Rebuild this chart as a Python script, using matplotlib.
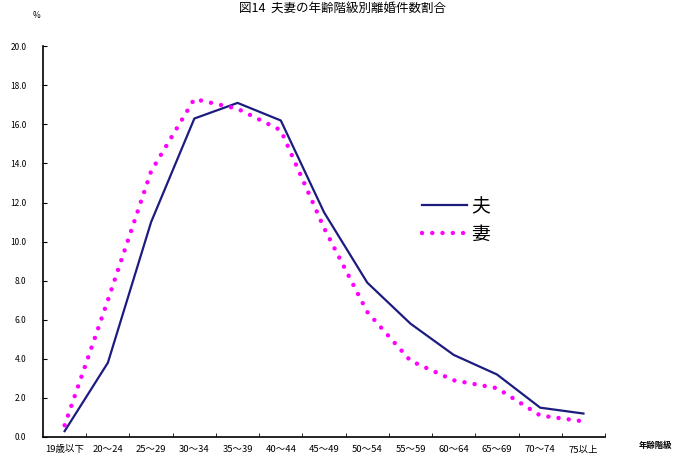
import numpy as np
import matplotlib.pyplot as plt

plt.rcParams['font.family'] = ['Noto Sans CJK JP', 'DejaVu Sans']

# 年齢階級
categories = ['19歳以下', '20～24', '25～29', '30～34', '35～39', '40～44', '45～49',
              '50～54', '55～59', '60～64', '65～69', '70～74', '75以上']
# 離婚件数割合 (%)
husband = [0.3, 3.8, 11.0, 16.3, 17.1, 16.2, 11.5, 7.9, 5.8, 4.2, 3.2, 1.5, 1.2]
wife = [0.6, 7.0, 13.6, 17.3, 16.8, 15.7, 10.7, 6.4, 3.9, 2.9, 2.5, 1.1, 0.8]
yticks = np.arange(0, 20.1, 2.0)

fig = plt.figure(figsize=(6.85, 4.57), dpi=100)
ax = fig.add_axes([0.0628, 0.0438, 0.8205, 0.855])

x = np.arange(len(categories))
ax.plot(x, husband, color='#1c1c80', lw=1.6, label='夫')
ax.plot(x, wife, color='#ff00ff', lw=3.2, linestyle=(0, (0.01, 2.3)),
        dash_capstyle='round', label='妻')

ax.set_xlim(-0.5, len(categories) - 0.5)
ax.set_ylim(0, 20)
ax.set_yticks(yticks)
ax.set_yticklabels([f'{v:.1f}' for v in yticks], fontsize=6)
ax.set_xticks(x)
ax.set_xticklabels(categories, fontsize=6.8)
ax.set_xticks(np.arange(0.5, len(categories) - 0.4, 1), minor=True)
ax.tick_params(axis='x', which='major', length=0, pad=6)
ax.tick_params(axis='x', which='minor', direction='in', length=3)
ax.tick_params(axis='y', direction='in', length=3, pad=12)

for s in ['top', 'right']:
    ax.spines[s].set_visible(False)
for s in ['left', 'bottom']:
    ax.spines[s].set_linewidth(1.2)

ax.legend(loc='upper left', bbox_to_anchor=(0.645, 0.66), frameon=False,
          fontsize=13.5, handlelength=2.4, handletextpad=0.2, labelspacing=0.35)

fig.text(0.5, 0.982, '図14  夫妻の年齢階級別離婚件数割合', ha='center', va='center', fontsize=9)
fig.text(0.054, 0.965, '%', ha='center', va='center', fontsize=6)
fig.text(0.957, 0.026, '年齢階級', ha='center', va='center', fontsize=6, fontweight='bold')

fig.savefig('out.png', dpi=100)
